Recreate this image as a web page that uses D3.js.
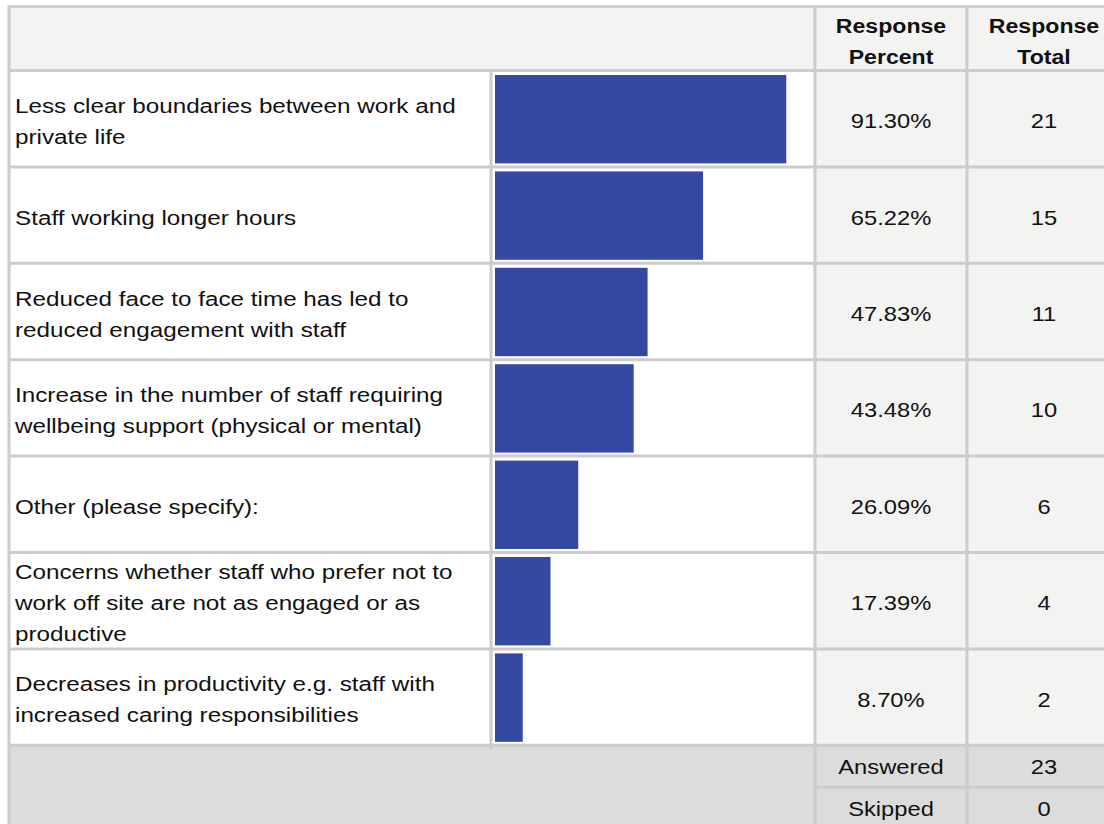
<!DOCTYPE html>
<html>
<head>
<meta charset="utf-8">
<script src="https://cdn.jsdelivr.net/npm/d3@7"></script>
<style>
    body { margin: 0; background: #ffffff; }
    svg text { font-family: "Liberation Sans", Arial, sans-serif; fill: #111; }
</style>
</head>
<body>
<div id="chart"></div>
<script>

// answer options, already broken into lines as in the survey export
const categories = [
    ["Less clear boundaries between work and", "private life"],
    ["Staff working longer hours"],
    ["Reduced face to face time has led to", "reduced engagement with staff"],
    ["Increase in the number of staff requiring", "wellbeing support (physical or mental)"],
    ["Other (please specify):"],
    ["Concerns whether staff who prefer not to", "work off site are not as engaged or as", "productive"],
    ["Decreases in productivity e.g. staff with", "increased caring responsibilities"]
];
const percents = [91.30, 65.22, 47.83, 43.48, 26.09, 17.39, 8.70];
const totals = [21, 15, 11, 10, 6, 4, 2];
const headerPercent = ["Response", "Percent"];
const headerTotal = ["Response", "Total"];
const summaryLabels = ["Answered", "Skipped"];
const summaryValues = [23, 0];

const width = 1104, height = 824;
const grid = "#cccccc", headBg = "#f3f3f2", footBg = "#dcdcdc", barColor = "#3549a3";

// column edges
const colLeft = 9, colBar = 491, colPct = 815, colTot = 967, colRight = 1121;
const tableTop = 6.5, headBottom = 70.5, bodyBottom = 745.3, sumRow = 42;

let svg = d3.select("#chart").append("svg")
    .attr("width", width)
    .attr("height", height);

// scales
let y = d3.scaleBand()
    .domain(d3.range(categories.length))
    .range([headBottom, bodyBottom])
    .padding(0);

let x = d3.scaleLinear()
    .domain([0, 100])
    .range([495, 814]);

let ySum = d3.scaleBand()
    .domain(d3.range(summaryLabels.length))
    .range([bodyBottom, bodyBottom + sumRow * summaryLabels.length]);

// survey tool renders text a bit wide, so squash it out horizontally
function stretchedText(sel, tx, ty, anchor, stretch) {
    return sel.append("text")
        .attr("transform", "translate(" + tx + "," + ty + ") scale(" + (stretch || 1.13) + ",1)")
        .attr("text-anchor", anchor)
        .attr("font-size", "21px");
}

// backgrounds
svg.append("rect")
    .attr("x", colLeft).attr("y", tableTop)
    .attr("width", colRight - colLeft).attr("height", headBottom - tableTop)
    .attr("fill", headBg);

svg.append("rect")
    .attr("x", colPct).attr("y", headBottom)
    .attr("width", colRight - colPct).attr("height", bodyBottom - headBottom)
    .attr("fill", headBg);

svg.append("rect")
    .attr("x", colLeft).attr("y", bodyBottom)
    .attr("width", colRight - colLeft).attr("height", height - bodyBottom + 10)
    .attr("fill", footBg);

// bars
svg.selectAll(".bar")
    .data(percents)
    .enter().append("rect")
    .attr("class", "bar")
    .attr("x", x(0))
    .attr("y", (d, i) => y(i) + 4.5)
    .attr("width", d => x(d) - x(0))
    .attr("height", y.bandwidth() - 8)
    .attr("fill", barColor);

// grid lines
let lines = svg.append("g")
    .attr("stroke", grid)
    .attr("stroke-width", 3);

lines.append("line").attr("x1", colLeft).attr("x2", colRight).attr("y1", tableTop).attr("y2", tableTop);
lines.append("line").attr("x1", colLeft).attr("x2", colRight).attr("y1", headBottom).attr("y2", headBottom);

lines.selectAll(".row-line")
    .data(d3.range(1, categories.length + 1))
    .enter().append("line")
    .attr("class", "row-line")
    .attr("x1", colLeft).attr("x2", colRight)
    .attr("y1", i => i < categories.length ? y(i) : bodyBottom)
    .attr("y2", i => i < categories.length ? y(i) : bodyBottom);

lines.append("line")
    .attr("x1", colPct).attr("x2", colRight)
    .attr("y1", ySum(1)).attr("y2", ySum(1));

lines.append("line").attr("x1", colLeft).attr("x2", colLeft).attr("y1", tableTop - 1.5).attr("y2", height + 10);
lines.append("line").attr("x1", colBar).attr("x2", colBar).attr("y1", headBottom).attr("y2", bodyBottom + 4);
lines.append("line").attr("x1", colPct).attr("x2", colPct).attr("y1", tableTop - 1.5).attr("y2", height + 10);
lines.append("line").attr("x1", colTot).attr("x2", colTot).attr("y1", tableTop - 1.5).attr("y2", height + 10);

// header text
let pctMid = (colPct + colTot) / 2, totMid = (colTot + colRight) / 2;
let headMid = (tableTop + headBottom) / 2;

[[headerPercent, pctMid], [headerTotal, totMid]].forEach(function (h) {
    h[0].forEach(function (t, j) {
        stretchedText(svg, h[1], headMid + 9.5 + (j - 0.5) * 31, "middle", 1.1)
            .attr("font-weight", "bold")
            .text(t);
    });
});

// row labels and values
categories.forEach(function (lbl, i) {
    let mid = y(i) + y.bandwidth() / 2;
    let n = lbl.length;
    lbl.forEach(function (t, j) {
        stretchedText(svg, 15, mid + 9.5 + (j - (n - 1) / 2) * 31, "start", 1.155).text(t);
    });
    stretchedText(svg, pctMid, mid + 9.5, "middle").text(percents[i].toFixed(2) + "%");
    stretchedText(svg, totMid, mid + 9.5, "middle").text(totals[i]);
});

// answered / skipped
summaryLabels.forEach(function (t, i) {
    let mid = ySum(i) + ySum.bandwidth() / 2;
    stretchedText(svg, pctMid, mid + 8, "middle").text(t);
    stretchedText(svg, totMid, mid + 8, "middle").text(summaryValues[i]);
});

</script>
</body>
</html>
